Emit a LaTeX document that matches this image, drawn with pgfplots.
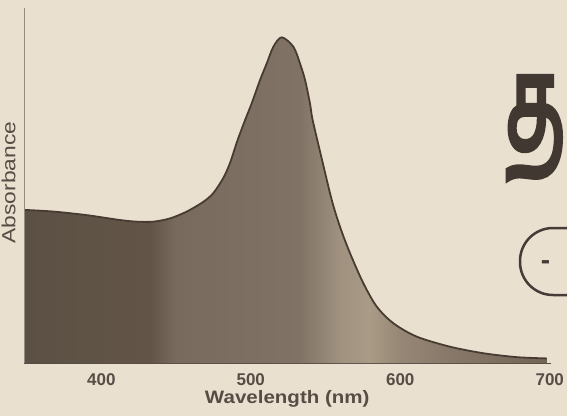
\documentclass[border=0pt]{standalone}
\usepackage{fontspec}
\setmainfont{Liberation Sans}
\newfontfamily\ylabfont[FakeStretch=1.2]{Liberation Sans}
\newfontfamily\xlabfont[FakeStretch=1.14]{Liberation Sans}
\newfontfamily\tamilfont[Script=Tamil, FakeBold=4]{Hind Madurai}
\usepackage{graphicx}
\usepackage{pgfplots}
\pgfplotsset{compat=1.18}
\usepackage{pgfplotstable}
\definecolor{paper}{RGB}{233,224,208}
\definecolor{ink}{RGB}{88,77,69}
\definecolor{outline}{RGB}{72,60,50}
\definecolor{f1}{RGB}{92,80,68}
\definecolor{f2}{RGB}{98,85,72}
\definecolor{f3}{RGB}{120,107,94}
\definecolor{f4}{RGB}{128,115,101}
\definecolor{f5}{RGB}{160,145,128}
\definecolor{f6}{RGB}{170,155,135}
\definecolor{f7}{RGB}{150,135,118}
\definecolor{f8}{RGB}{135,120,105}
\definecolor{f9}{RGB}{115,100,86}
\pgfdeclarehorizontalshading{specfill}{100bp}{color(0bp)=(f1); color(25bp)=(f1); color(37bp)=(f2); color(39.4bp)=(f3); color(51.3bp)=(f4); color(55.2bp)=(f5); color(58bp)=(f6); color(60.9bp)=(f7); color(65.7bp)=(f8); color(75bp)=(f9); color(100bp)=(f9)}
\pgfplotstableread{
nm A
349.0 0.470
367.9 0.465
390.3 0.454
412.5 0.439
423.7 0.434
434.8 0.434
446.0 0.444
457.2 0.465
468.3 0.495
475.0 0.522
481.6 0.568
486.1 0.614
491.0 0.682
496.2 0.746
500.6 0.797
506.2 0.869
510.7 0.920
515.1 0.971
520.7 1.000
528.5 0.971
532.9 0.920
536.3 0.869
539.6 0.797
541.4 0.746
547.7 0.623
554.2 0.500
559.7 0.418
566.4 0.337
575.3 0.245
584.3 0.173
595.4 0.122
611.0 0.081
633.3 0.050
655.6 0.030
677.9 0.018
698.0 0.014
}\spectrum
\begin{document}
\begin{tikzpicture}
\fill[paper] (0,0) rectangle (567pt,416pt);
\begin{axis}[
  scale only axis,
  width=526.5pt, height=355pt,
  at={(24pt,53pt)}, anchor=south west,
  xmin=348.3, xmax=700.5, ymin=0, ymax=1.09,
  axis x line=bottom, axis y line=left,
  x axis line style={-, draw=ink, line width=1pt},
  y axis line style={-, draw={rgb,255:red,150;green,140;blue,130}, line width=0.8pt},
  xtick={400,500,600,700}, ytick=\empty,
  major tick length=0pt,
  /pgf/number format/assume math mode=true,
  xticklabel style={font=\bfseries\fontsize{17}{19}\selectfont, text=ink, inner sep=0pt, anchor=north, yshift=-10pt},
  xlabel={Wavelength (nm)},
  xlabel style={font=\xlabfont\bfseries\fontsize{18}{20}\selectfont, text=ink, inner sep=0pt, at={(axis description cs:0.5,0)}, anchor=base, yshift=-40pt},
  ylabel={Absorbance},
  ylabel style={font=\ylabfont\fontsize{19}{21}\selectfont, text=ink, inner sep=0pt, at={(axis description cs:-0.0163,0.5085)}, anchor=base, rotate=0},
  clip=false,
]
\addplot[draw=none, shading=specfill, shade, smooth, tension=0.5] table[x=nm, y=A] {\spectrum} \closedcycle;
\addplot[draw=outline, line width=1.8pt, smooth, tension=0.5] table[x=nm, y=A] {\spectrum};
\end{axis}
\node[anchor=base west, inner sep=0pt, text={rgb,255:red,66;green,56;blue,50}] at (505pt,267pt) {\scalebox{0.6}[1]{\tamilfont\fontsize{132}{132}\selectfont த}};
\draw[line width=2.5pt, draw={rgb,255:red,70;green,60;blue,55}, rounded corners=33pt] (520pt,188pt) rectangle (660pt,121pt);
\node[anchor=base, inner sep=0pt, font=\bfseries\fontsize{28}{30}\selectfont, text={rgb,255:red,70;green,60;blue,55}] at (545.5pt,146.4pt) {-};
\pgfresetboundingbox
\path[use as bounding box] (0,0) rectangle (567pt,416pt);
\end{tikzpicture}
\end{document}
